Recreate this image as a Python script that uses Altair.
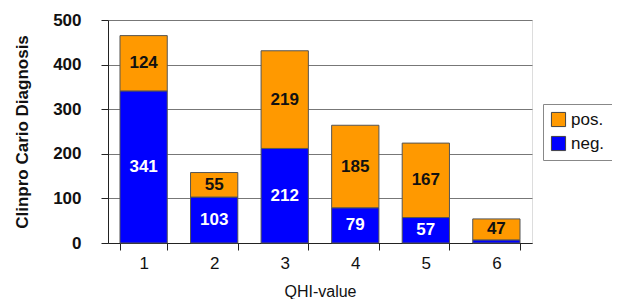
import altair as alt
import pandas as pd

qhi = [1, 2, 3, 4, 5, 6]
neg = [341, 103, 212, 79, 57, 7]
pos = [124, 55, 219, 185, 167, 47]
series = ["pos.", "neg."]
colors = ["#FF9900", "#0000FF"]

rows = []
for q, n, p in zip(qhi, neg, pos):
    rows.append({"qhi": str(q), "series": "neg.", "ord": 0, "value": n,
                 "label": str(n) if n > 20 else ""})
    rows.append({"qhi": str(q), "series": "pos.", "ord": 1, "value": p,
                 "label": str(p)})
df = pd.DataFrame(rows)

FONT = "Liberation Sans"

base = alt.Chart(df).transform_stack(
    stack="value", groupby=["qhi"], as_=["y0", "y1"],
    sort=[alt.SortField("ord", order="ascending")]
).transform_calculate(mid="(datum.y0 + datum.y1) / 2")

xenc = alt.X("qhi:N", title="QHI-value",
             scale=alt.Scale(paddingInner=0.33, paddingOuter=0.17),
             axis=alt.Axis(labelAngle=0, tickBand="extent", labelFontSize=17,
                           labelFont=FONT, labelColor="#111", titleFont=FONT,
                           titleFontSize=16, titleFontWeight="normal", titleColor="#111",
                           domainColor="#222", tickColor="#222", tickSize=7,
                           labelPadding=5, titlePadding=12))

bars = base.mark_bar(stroke="#555555", strokeWidth=1).encode(
    x=xenc,
    y=alt.Y("y0:Q", title="Clinpro Cario Diagnosis",
            scale=alt.Scale(domain=[0, 500]),
            axis=alt.Axis(values=[0, 100, 200, 300, 400, 500], labelFontSize=17,
                          labelFontWeight="bold", labelFont=FONT, labelColor="#111",
                          titleFont=FONT, titleFontSize=17, titleFontWeight="bold",
                          titleColor="#111", gridColor="#777777", gridWidth=1,
                          domainColor="#222", tickColor="#222", tickSize=7,
                          labelPadding=20, titlePadding=21)),
    y2="y1:Q",
    color=alt.Color("series:N", scale=alt.Scale(domain=series, range=colors),
                    legend=alt.Legend(title=None, orient="none", legendX=435, legendY=84,
                                      symbolType="square", symbolSize=200,
                                      symbolStrokeColor="#444", symbolStrokeWidth=1,
                                      labelFont=FONT, labelFontSize=17, labelColor="#111",
                                      strokeColor="#888", padding=7, rowPadding=5,
                                      fillColor="white")),
    order=alt.Order("ord:Q"),
)

texts = base.mark_text(fontWeight="bold", fontSize=17, font=FONT, baseline="middle").encode(
    x="qhi:N",
    y="mid:Q",
    text="label:N",
    color=alt.Color("series:N", scale=alt.Scale(domain=series, range=["#111111", "#ffffff"]),
                    legend=None),
)

chart = alt.layer(bars, texts).resolve_scale(color="independent").properties(
    width=424, height=223,
    autosize=alt.AutoSizeParams(type="none"),
    padding={"left": 100, "top": 12, "right": 80, "bottom": 56},
).configure_view(stroke="#999999", strokeWidth=1).configure(background="white")

chart.save("out.html", embed_options={"renderer": "svg", "actions": False})
